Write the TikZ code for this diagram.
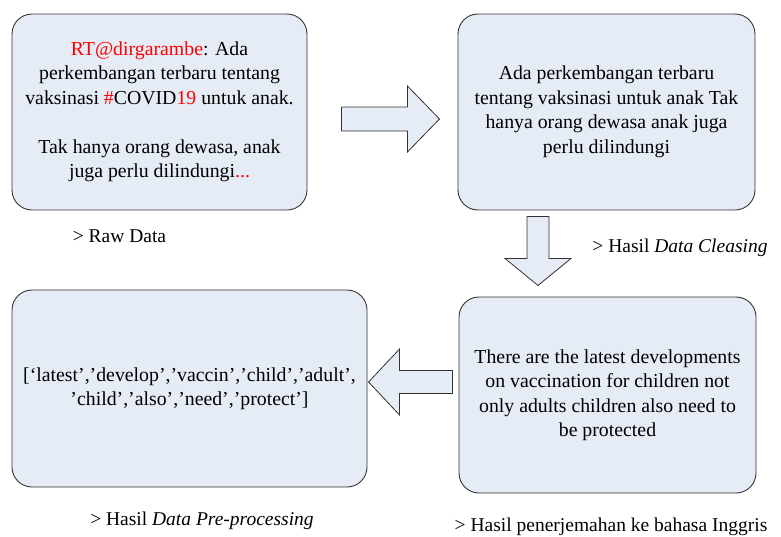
\documentclass[tikz,border=0pt]{standalone}
\usepackage{fontspec}
\setmainfont{LiberationSerif}[Extension=.ttf, UprightFont=*-Regular, ItalicFont=*-Italic, BoldFont=*-Bold]
\usetikzlibrary{positioning,calc}
\definecolor{boxfill}{RGB}{230,236,246}
\definecolor{tred}{RGB}{255,0,0}
\definecolor{edgegray}{RGB}{50,50,50}

\begin{document}
\begin{tikzpicture}[x=1pt, y=1pt,
  stage/.style={draw=edgegray, line width=0.9pt, rounded corners=20pt, fill=boxfill,
                align=center, inner sep=0pt, font=\fontsize{19.8}{24.5}\selectfont},
  blk/.style={draw=edgegray, line width=0.8pt, fill=boxfill, line join=miter},
  stagecap/.style={font=\fontsize{19.5}{22}\selectfont, inner sep=0pt}
]
\useasboundingbox (0,0) rectangle (781,-536);

\node[stage, minimum width=295pt, minimum height=196pt] (raw) at (159.5,-112)
  {{\color{tred}RT@dirgarambe}: Ada\\perkembangan terbaru tentang\\vaksinasi {\color{tred}\#}COVID{\color{tred}19} untuk anak.\\[24.5pt]Tak hanya orang dewasa, anak\\juga perlu dilindungi{\color{tred}...}};
\node[stage, minimum width=297pt, minimum height=196pt] (clean) at (606.5,-112)
  {Ada perkembangan terbaru\\tentang vaksinasi untuk anak Tak\\hanya orang dewasa anak juga\\perlu dilindungi};
\node[stage, minimum width=297pt, minimum height=196pt] (trans) at (607.5,-395)
  {There are the latest developments\\on vaccination for children not\\only adults children also need to\\be protected};
\node[stage, minimum width=355pt, minimum height=197pt] (prep) at (189.5,-388.5)
  {[‘latest’,’develop’,’vaccin’,’child’,’adult’,\\’child’,’also’,’need’,’protect’]};

\node[stagecap] (rawcap) at (119.5,-236) {> Raw Data};
\node[stagecap] (cleancap) at (680,-248) {> Hasil \textit{Data Cleasing}};
\node[stagecap] (transcap) at (611,-527) {> Hasil penerjemahan ke bahasa Inggris};
\node[stagecap] (prepcap) at (202,-521) {> Hasil \textit{Data Pre-processing}};

\coordinate (rawout) at ($(raw.east)+(34,-7)$);
\coordinate (cleanout) at ($(clean.south)+(-68.5,-6)$);
\coordinate (transout) at ($(trans.west)+(-6,13)$);

\draw[blk] (rawout) -- ++(0,12) -- ++(66,0) -- ++(0,21) -- ++(32,-33)
  -- ++(-32,-33) -- ++(0,21) -- ++(-66,0) -- cycle;
\draw[blk] (cleanout) -- ++(11,0) -- ++(0,-42) -- ++(22,0) -- ++(-33,-27)
  -- ++(-33,27) -- ++(22,0) -- ++(0,42) -- cycle;
\draw[blk] (transout) -- ++(0,11.5) -- ++(-53,0) -- ++(0,21.5) -- ++(-31,-33)
  -- ++(31,-33) -- ++(0,21.5) -- ++(53,0) -- cycle;
\end{tikzpicture}
\end{document}
